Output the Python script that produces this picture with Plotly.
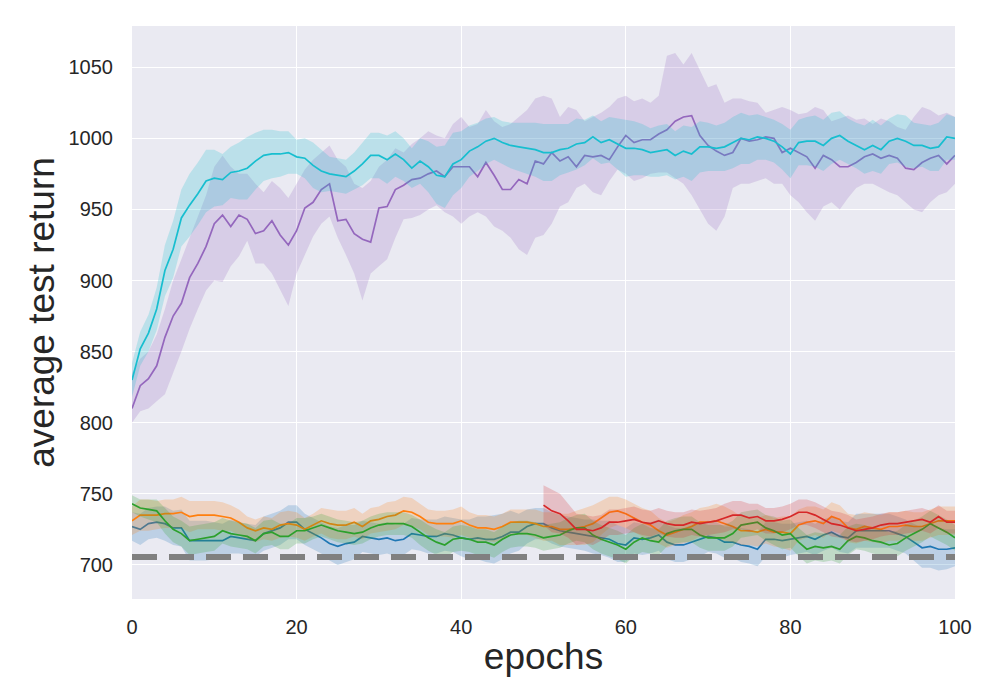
import plotly.graph_objects as go

# epochs on the x axis
epochs = list(range(0, 101))
red_epochs = list(range(50, 101))

# mean curves
cyan_mean = [830, 852, 863, 880, 907, 922, 944, 953, 961, 970,
             972, 971, 976, 977, 979, 984, 988, 989, 989, 990,
             987, 986, 981, 977, 975, 974, 973, 977, 982, 988,
             988, 985, 989, 985, 979, 984, 980, 974, 973, 982,
             985, 991, 994, 998, 1000, 997, 995, 994, 993, 992,
             990, 990, 992, 993, 996, 997, 1001, 997, 999, 996,
             993, 993, 992, 990, 991, 992, 988, 991, 989, 994,
             994, 993, 994, 997, 1000, 999, 1001, 1000, 998, 994,
             989, 997, 998, 998, 995, 1000, 1002, 998, 995, 992,
             995, 992, 998, 1000, 998, 995, 995, 993, 994, 1001,
             1000]
purple_mean = [810, 826, 831, 840, 860, 875, 884, 902, 912, 924,
               940, 946, 938, 946, 943, 933, 935, 942, 932, 925,
               935, 951, 955, 964, 968, 942, 943, 933, 929, 927,
               951, 952, 964, 967, 971, 972, 975, 977, 973, 980,
               980, 980, 973, 983, 974, 964, 964, 971, 968, 984,
               982, 990, 984, 987, 980, 988, 987, 988, 985, 994,
               1002, 997, 999, 999, 1003, 1006, 1012, 1015, 1016, 1002,
               995, 991, 988, 990, 1000, 998, 999, 1001, 1000, 990,
               993, 990, 987, 979, 988, 985, 980, 980, 983, 987,
               989, 986, 988, 986, 979, 978, 983, 986, 988, 982,
               988]
blue_mean = [727, 725, 729, 730, 729, 726, 726, 717, 717, 717,
             717, 717, 720, 719, 718, 717, 722, 724, 726, 730,
             730, 725, 722, 719, 715, 713, 715, 716, 720, 719,
             718, 719, 717, 718, 722, 721, 720, 720, 722, 721,
             719, 718, 719, 718, 718, 720, 723, 723, 727, 729,
             729, 726, 724, 723, 722, 721, 720, 719, 718, 715,
             714, 719, 718, 719, 721, 716, 714, 714, 716, 718,
             720, 719, 716, 716, 714, 713, 711, 718, 718, 717,
             718, 719, 720, 718, 721, 723, 720, 719, 724, 724,
             724, 724, 724, 722, 720, 716, 712, 713, 711, 711,
             712]
orange_mean = [731, 735, 735, 735, 736, 736, 737, 734, 735, 735,
               735, 734, 733, 730, 726, 724, 726, 725, 728, 729,
               728, 725, 728, 731, 729, 728, 728, 730, 727, 731,
               732, 734, 735, 738, 737, 734, 730, 729, 729, 729,
               731, 728, 726, 726, 725, 727, 730, 730, 730, 729,
               727, 727, 725, 725, 726, 727, 729, 733, 737, 738,
               736, 733, 730, 728, 724, 721, 723, 725, 727, 730,
               730, 731, 729, 727, 724, 724, 723, 725, 723, 723,
               722, 728, 730, 731, 729, 734, 732, 726, 725, 727,
               726, 725, 727, 727, 728, 727, 727, 729, 731, 731,
               731]
green_mean = [743, 740, 739, 738, 731, 725, 722, 717, 718, 719,
              720, 724, 722, 721, 720, 717, 722, 723, 720, 720,
              724, 724, 726, 728, 726, 724, 723, 722, 723, 726,
              728, 729, 729, 729, 727, 723, 719, 716, 714, 718,
              719, 718, 716, 716, 714, 718, 721, 722, 722, 721,
              719, 720, 721, 724, 726, 726, 721, 718, 716, 714,
              711, 716, 719, 717, 716, 722, 724, 725, 725, 721,
              719, 719, 719, 722, 728, 729, 730, 726, 724, 721,
              722, 716, 711, 713, 712, 713, 711, 717, 720, 719,
              717, 716, 714, 715, 719, 722, 725, 729, 726, 723,
              719]
red_mean = [742, 738, 736, 731, 725, 725, 724, 726, 730, 730,
            731, 732, 730, 729, 731, 729, 728, 728, 730, 729,
            730, 731, 733, 735, 735, 733, 734, 731, 731, 732,
            734, 737, 737, 735, 732, 729, 728, 726, 724, 725,
            726, 728, 729, 729, 730, 731, 732, 730, 734, 730,
            730]

# shaded bands
cyan_err = [12, 12, 13, 15, 18, 20, 20, 22, 22, 22,
            20, 18, 18, 20, 22, 20, 18, 17, 16, 15,
            12, 14, 16, 15, 12, 12, 12, 13, 15, 16,
            16, 17, 16, 15, 14, 16, 18, 20, 22, 22,
            20, 18, 17, 16, 15, 15, 16, 17, 18, 19,
            20, 20, 18, 17, 18, 16, 15, 15, 16, 18,
            20, 19, 18, 17, 18, 18, 17, 18, 19, 18,
            17, 16, 17, 18, 18, 17, 16, 15, 15, 16,
            17, 16, 17, 18, 18, 18, 17, 16, 16, 17,
            18, 17, 16, 17, 18, 16, 15, 16, 17, 16,
            15]
purple_hi = [835, 845, 850, 862, 880, 900, 915, 930, 945, 960,
             980, 988, 980, 975, 975, 968, 962, 970, 965, 958,
             968, 978, 985, 990, 995, 985, 980, 968, 965, 970,
             980, 985, 993, 990, 996, 1000, 1005, 1002, 1000, 1010,
             1015, 1008, 1010, 1020, 1012, 1008, 1010, 1015, 1020, 1028,
             1030, 1028, 1015, 1022, 1020, 1012, 1015, 1018, 1022, 1028,
             1030, 1026, 1028, 1025, 1030, 1058, 1060, 1052, 1060, 1048,
             1036, 1038, 1025, 1028, 1028, 1026, 1025, 1018, 1020, 1022,
             1020, 1017, 1018, 1022, 1020, 1012, 1014, 1016, 1013, 1014,
             1010, 1014, 1012, 1008, 1006, 1015, 1022, 1020, 1016, 1018,
             1015]
purple_lo = [800, 808, 810, 815, 820, 835, 850, 866, 880, 893,
             900, 899, 910, 917, 928, 912, 912, 905, 893, 882,
             905, 918, 931, 940, 945, 930, 918, 905, 886, 905,
             910, 915, 930, 943, 944, 946, 950, 953, 948, 945,
             940, 945, 948, 945, 938, 935, 930, 922, 918, 930,
             932, 940, 952, 955, 965, 968, 962, 960, 970, 978,
             975, 970, 972, 975, 976, 976, 972, 968, 960, 950,
             940, 935, 945, 965, 968, 968, 970, 972, 968, 968,
             960, 955, 948, 942, 952, 955, 950, 958, 965, 968,
             968, 965, 962, 960, 955, 950, 948, 955, 960, 962,
             968]
blue_err = [10, 11, 11, 11, 12, 12, 13, 14, 14, 14,
            13, 12, 12, 11, 11, 11, 12, 12, 12, 12,
            12, 11, 11, 11, 12, 13, 13, 12, 11, 11,
            11, 11, 11, 11, 11, 11, 12, 12, 12, 12,
            13, 14, 15, 16, 17, 16, 15, 13, 12, 11,
            11, 11, 11, 11, 11, 11, 12, 12, 13, 13,
            12, 11, 11, 11, 11, 12, 12, 12, 12, 12,
            11, 11, 11, 11, 12, 12, 12, 12, 12, 12,
            11, 11, 11, 11, 11, 11, 11, 11, 12, 12,
            12, 12, 12, 12, 12, 13, 14, 15, 15, 14,
            13]
orange_err = [10, 11, 11, 10, 10, 10, 11, 11, 10, 10,
              10, 10, 9, 9, 8, 8, 8, 8, 9, 9,
              9, 8, 8, 9, 10, 10, 10, 10, 9, 9,
              9, 10, 10, 10, 10, 9, 9, 9, 9, 10,
              10, 9, 9, 9, 9, 9, 9, 9, 9, 10,
              10, 10, 11, 11, 12, 13, 13, 12, 11, 10,
              10, 10, 10, 10, 9, 9, 9, 10, 10, 10,
              11, 12, 12, 11, 10, 10, 10, 10, 10, 11,
              12, 11, 11, 10, 10, 10, 10, 10, 10, 10,
              10, 10, 10, 10, 10, 10, 10, 10, 10, 10,
              10]
green_err = [6, 6, 7, 8, 9, 9, 9, 10, 10, 10,
             10, 9, 9, 9, 9, 9, 9, 9, 9, 9,
             9, 9, 8, 8, 8, 8, 8, 8, 8, 8,
             8, 8, 8, 8, 8, 9, 9, 9, 9, 9,
             9, 9, 9, 9, 9, 9, 9, 9, 9, 9,
             9, 9, 9, 9, 9, 10, 10, 10, 10, 10,
             10, 10, 10, 9, 9, 9, 9, 9, 9, 9,
             9, 9, 9, 9, 9, 9, 9, 9, 10, 10,
             10, 10, 10, 10, 10, 10, 10, 10, 9, 9,
             9, 9, 9, 9, 9, 9, 9, 9, 9, 9,
             9]
red_err = [14, 15, 14, 12, 11, 10, 10, 9, 9, 9,
           9, 9, 9, 9, 9, 9, 9, 9, 9, 9,
           9, 9, 10, 10, 10, 10, 9, 9, 9, 9,
           9, 9, 9, 9, 9, 9, 9, 9, 8, 8,
           8, 8, 8, 8, 8, 8, 8, 8, 8, 8,
           8]

baseline = 705.5
y_ticks = [700, 750, 800, 850, 900, 950, 1000, 1050]
x_ticks = [0, 20, 40, 60, 80, 100]


def band(x, lo, hi, rgb, alpha):
    return go.Scatter(x=list(x) + list(x)[::-1], y=list(hi) + list(lo)[::-1],
                      fill="toself", fillcolor=f"rgba({rgb},{alpha})",
                      line=dict(width=0), mode="lines", hoverinfo="skip")


def line(x, y, color):
    return go.Scatter(x=x, y=y, mode="lines", line=dict(color=color, width=1.7))


series = [
    (epochs, blue_mean, blue_err, None, "31,119,180", "#1f77b4"),
    (epochs, orange_mean, orange_err, None, "255,127,14", "#ff7f0e"),
    (epochs, green_mean, green_err, None, "44,160,44", "#2ca02c"),
    (red_epochs, red_mean, red_err, None, "214,39,40", "#d62728"),
    (epochs, purple_mean, None, (purple_lo, purple_hi), "148,103,189", "#9467bd"),
    (epochs, cyan_mean, cyan_err, None, "23,190,207", "#17becf"),
]

fig = go.Figure()
for x, m, err, bounds, rgb, col in series:
    if bounds is None:
        lo = [a - b for a, b in zip(m, err)]
        hi = [a + b for a, b in zip(m, err)]
    else:
        lo, hi = bounds
    fig.add_trace(band(x, lo, hi, rgb, 0.22))
    fig.add_trace(line(x, m, col))

# gray dashed reference level
fig.add_hline(y=baseline, line=dict(color="#808080", width=6, dash="25px,12px"))

# page body adds 8px offset, margins compensate
fig.update_layout(
    width=1000, height=700,
    margin=dict(l=124, r=53, t=18, b=109),
    plot_bgcolor="#EAEAF2", paper_bgcolor="white",
    showlegend=False,
    font=dict(family="Liberation Sans, Arial, sans-serif", color="#262626"),
)
fig.update_xaxes(range=[0, 100], tickvals=x_ticks, gridcolor="white", gridwidth=1.3,
                 zeroline=False, showline=False, tickfont=dict(size=20),
                 ticks="outside", ticklen=10, tickcolor="rgba(0,0,0,0)",
                 title=dict(text="epochs", font=dict(size=37), standoff=6))
fig.update_yaxes(range=[676, 1079], tickvals=y_ticks, gridcolor="white", gridwidth=1.3,
                 zeroline=False, showline=False, tickfont=dict(size=20),
                 ticks="outside", ticklen=14, tickcolor="rgba(0,0,0,0)",
                 title=dict(text="average test return", font=dict(size=37), standoff=2))

fig.write_html("out.html")
